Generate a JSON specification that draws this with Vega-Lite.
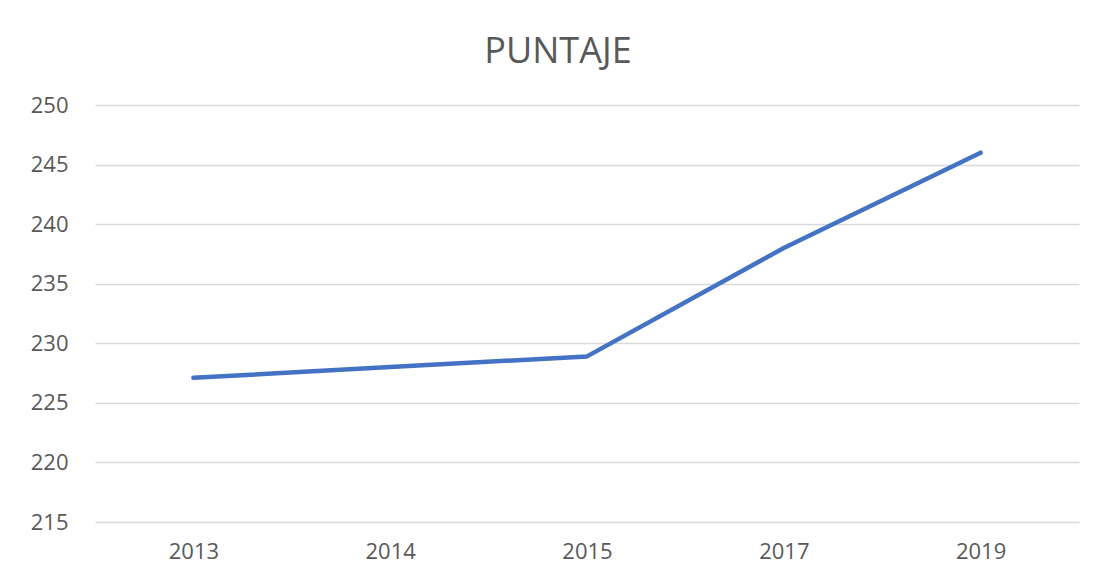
{
  "$schema": "https://vega.github.io/schema/vega-lite/v6.json",
  "autosize": "none",
  "width": 984,
  "height": 417,
  "padding": {"left": 95, "top": 105, "right": 27, "bottom": 57},
  "background": "white",
  "config": {"view": {"stroke": null}, "font": "Open Sans"},
  "title": {
    "text": "PUNTAJE",
    "anchor": "middle",
    "dx": -29,
    "offset": 23,
    "fontSize": 36,
    "fontWeight": "normal",
    "color": "#595959",
    "font": "Open Sans"
  },
  "data": {
    "values": [
      {"year": "2013", "puntaje": 227.1},
      {"year": "2014", "puntaje": 228.0},
      {"year": "2015", "puntaje": 228.9},
      {"year": "2017", "puntaje": 238.0},
      {"year": "2019", "puntaje": 246.0}
    ]
  },
  "mark": {"type": "line", "color": "#4472C4", "strokeWidth": 4.5, "strokeCap": "round", "strokeJoin": "round"},
  "encoding": {
    "x": {
      "field": "year",
      "type": "ordinal",
      "scale": {"type": "point", "padding": 0.5},
      "axis": {
        "title": null,
        "labelAngle": 0,
        "domain": false,
        "ticks": false,
        "grid": false,
        "labelFontSize": 22,
        "labelColor": "#595959",
        "labelPadding": 19,
        "labelFont": "Open Sans"
      }
    },
    "y": {
      "field": "puntaje",
      "type": "quantitative",
      "scale": {"domain": [215, 250], "nice": false, "zero": false},
      "axis": {
        "title": null,
        "values": [215, 220, 225, 230, 235, 240, 245, 250],
        "domain": false,
        "ticks": false,
        "grid": true,
        "gridColor": "#d9d9d9",
        "gridWidth": 1.3,
        "labelFontSize": 22,
        "labelColor": "#595959",
        "labelPadding": 27,
        "labelFont": "Open Sans"
      }
    }
  }
}
